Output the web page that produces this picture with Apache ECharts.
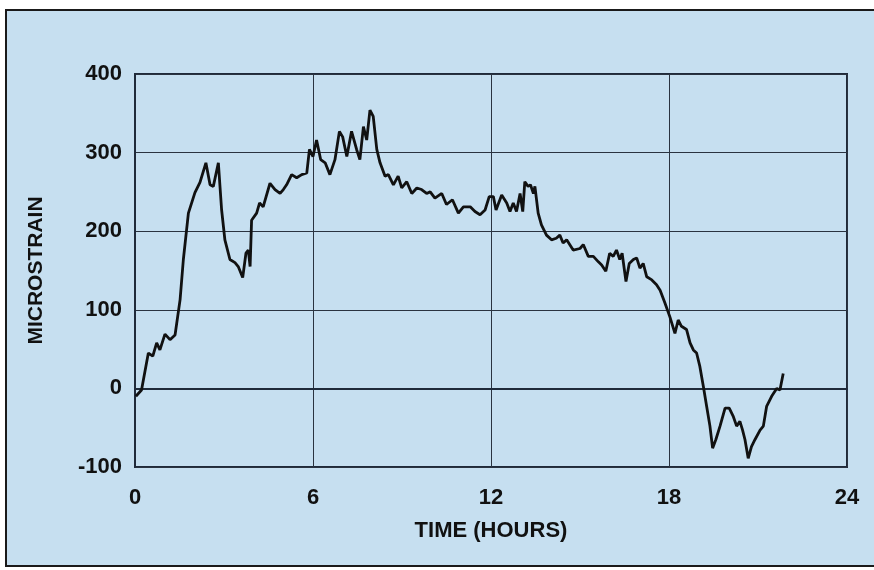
<!DOCTYPE html>
<html><head><meta charset="utf-8">
<script src="https://cdn.jsdelivr.net/npm/echarts@6/dist/echarts.min.js"></script>
<style>html,body{margin:0;padding:0;background:#fff}#c{width:874px;height:570px}</style>
</head><body><div id="c"></div>
<script>
const xTicks = [0, 6, 12, 18, 24];
const yTicks = [-100, 0, 100, 200, 300, 400];
const hours = [0.03,0.22,0.45,0.6,0.73,0.84,1.01,1.18,1.35,1.52,1.63,1.8,2.02,2.19,2.39,2.53,2.64,2.81,2.92,3.03,3.2,3.37,3.48,3.63,3.74,3.82,3.88,3.93,4.1,4.2,4.32,4.55,4.72,4.89,5.0,5.11,5.28,5.45,5.62,5.79,5.88,6.0,6.12,6.26,6.41,6.57,6.74,6.89,7.0,7.14,7.3,7.47,7.58,7.7,7.81,7.92,8.03,8.15,8.26,8.43,8.54,8.71,8.87,8.99,9.16,9.33,9.5,9.66,9.83,9.95,10.11,10.34,10.5,10.7,10.9,11.07,11.3,11.46,11.63,11.8,11.94,12.08,12.17,12.36,12.53,12.64,12.75,12.86,12.98,13.07,13.14,13.25,13.33,13.43,13.48,13.59,13.7,13.87,14.04,14.2,14.32,14.43,14.55,14.77,15.0,15.11,15.28,15.45,15.62,15.73,15.87,16.0,16.12,16.23,16.34,16.42,16.55,16.66,16.8,16.91,17.02,17.13,17.25,17.42,17.58,17.7,17.86,18.03,18.2,18.31,18.42,18.59,18.71,18.82,18.93,19.04,19.16,19.27,19.38,19.47,19.58,19.72,19.89,20.03,20.17,20.28,20.39,20.48,20.56,20.67,20.78,20.9,21.07,21.18,21.29,21.46,21.63,21.74,21.85];
const microstrain = [-10,-2,45,41,58,49,69,62,68,113,164,223,249,262,287,259,257,287,227,189,164,160,155,141,172,176,155,214,223,236,231,261,253,248,253,259,272,268,272,274,304,295,316,291,287,272,291,327,320,295,327,304,291,333,316,354,346,304,287,270,272,259,270,255,263,248,255,253,248,250,242,248,234,240,223,231,231,225,221,227,244,244,227,246,236,225,236,225,248,225,263,257,259,248,257,223,208,195,189,191,195,185,189,176,178,183,168,168,161,157,149,172,168,176,164,172,136,159,164,166,153,159,142,138,132,125,109,91,70,87,79,75,58,49,45,28,2,-23,-48,-76,-65,-48,-25,-25,-36,-48,-42,-53,-65,-89,-74,-65,-53,-48,-23,-10,0,-2,19];

const FONT = '"Liberation Sans",Arial,sans-serif';
const chart = echarts.init(document.getElementById('c'), null, {renderer:'canvas'});
chart.setOption({
  animation: false,
  backgroundColor: '#ffffff',
  graphic: [{
    type: 'rect', z: -10, silent: true,
    shape: {x: 6, y: 10, width: 880, height: 556},
    style: {fill: '#c6dff0', stroke: '#1a1a1a', lineWidth: 2}
  }],
  grid: {left: 135, top: 74, right: 27, bottom: 103, show: true, borderColor: '#1f2a3a', borderWidth: 2, backgroundColor: 'transparent'},
  xAxis: {
    type: 'value', min: xTicks[0], max: xTicks[xTicks.length-1], interval: 6,
    name: 'TIME (HOURS)', nameLocation: 'middle', nameGap: 53,
    nameTextStyle: {fontFamily: FONT, fontWeight: 'bold', fontSize: 22, color: '#111'},
    axisLine: {show: true, lineStyle: {color: '#1f2a3a', width: 2}},
    axisTick: {show: false},
    axisLabel: {fontFamily: FONT, fontWeight: 'bold', fontSize: 22, color: '#111', margin: 20},
    splitLine: {show: true, lineStyle: {color: '#2a3340', width: 1}}
  },
  yAxis: {
    type: 'value', min: yTicks[0], max: yTicks[yTicks.length-1], interval: 100,
    name: 'MICROSTRAIN', nameLocation: 'middle', nameGap: 88, nameRotate: 90,
    nameTextStyle: {fontFamily: FONT, fontWeight: 'bold', fontSize: 21, color: '#111'},
    axisLine: {show: true, lineStyle: {color: '#1f2a3a', width: 2}},
    axisTick: {show: false},
    axisLabel: {fontFamily: FONT, fontWeight: 'bold', fontSize: 22, color: '#111', margin: 13},
    splitLine: {show: true, lineStyle: {color: '#2a3340', width: 1}}
  },
  series: [{
    type: 'line', showSymbol: false, symbol: 'none',
    data: hours.map((h, i) => [h, microstrain[i]]),
    lineStyle: {color: '#111', width: 2.8},
    z: 5
  }]
});
</script></body></html>
